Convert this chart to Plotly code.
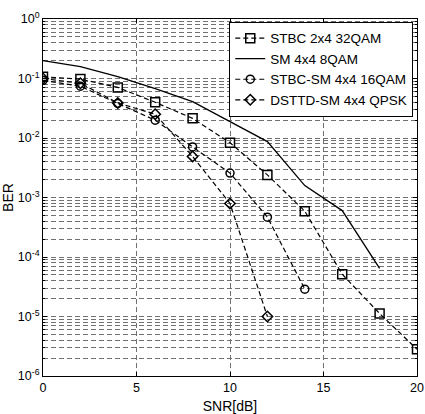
import plotly.graph_objects as go

snr_stbc = [0, 2, 4, 6, 8, 10, 12, 14, 16, 18, 20]
logber_stbc = [-0.97, -1.01, -1.15, -1.40, -1.67, -2.08, -2.62, -3.23, -4.29, -4.95, -5.55]

snr_sm = [0, 2, 4, 6, 8, 10, 12, 14, 16, 18]
logber_sm = [-0.70, -0.80, -0.97, -1.17, -1.39, -1.73, -2.06, -2.80, -3.22, -4.19]

snr_stbcsm = [0, 2, 4, 6, 8, 10, 12, 14]
logber_stbcsm = [-1.03, -1.13, -1.42, -1.70, -2.15, -2.59, -3.33, -4.54]

snr_dsttd = [0, 2, 4, 6, 8, 10, 12]
logber_dsttd = [-1.00, -1.08, -1.41, -1.60, -2.31, -3.10, -5.00]

ytick_vals = [1e0, 1e-1, 1e-2, 1e-3, 1e-4, 1e-5, 1e-6]
ytick_text = ["10<sup>0</sup>", "10<sup>-1</sup>", "10<sup>-2</sup>", "10<sup>-3</sup>",
              "10<sup>-4</sup>", "10<sup>-5</sup>", "10<sup>-6</sup>"]
xtick_vals = [0, 5, 10, 15, 20]

def tov(l):
    return [10 ** v for v in l]

dash = "5px,3px"
fig = go.Figure()
fig.add_trace(go.Scatter(x=snr_stbc, y=tov(logber_stbc), name="STBC 2x4 32QAM", mode="lines+markers",
                         line=dict(color="black", width=1.2, dash=dash),
                         marker=dict(symbol="square-open", size=9, color="black", line=dict(width=1.5))))
fig.add_trace(go.Scatter(x=snr_sm, y=tov(logber_sm), name="SM 4x4 8QAM", mode="lines",
                         line=dict(color="black", width=1.3)))
fig.add_trace(go.Scatter(x=snr_stbcsm, y=tov(logber_stbcsm), name="STBC-SM 4x4 16QAM", mode="lines+markers",
                         line=dict(color="black", width=1.2, dash=dash),
                         marker=dict(symbol="circle-open", size=8, color="black", line=dict(width=1.5))))
fig.add_trace(go.Scatter(x=snr_dsttd, y=tov(logber_dsttd), name="DSTTD-SM 4x4 QPSK", mode="lines+markers",
                         line=dict(color="black", width=1.2, dash=dash),
                         marker=dict(symbol="diamond-open", size=8, color="black", line=dict(width=1.5))))

font = dict(family="Liberation Sans, Arial, sans-serif", size=12, color="black")
gridc = "#707070"
fig.update_layout(
    width=425, height=414,
    margin=dict(l=43, r=8, t=19, b=38),
    paper_bgcolor="white", plot_bgcolor="white",
    font=font,
    showlegend=True,
    legend=dict(x=0.99, y=0.992, xanchor="right", yanchor="top",
                bgcolor="white", bordercolor="black", borderwidth=1,
                font=dict(family="Liberation Sans, Arial, sans-serif", size=13.5, color="black"),
                tracegroupgap=0, itemwidth=30),
    xaxis=dict(range=[0, 20], tickvals=xtick_vals, showline=True, linecolor="black", linewidth=1,
               mirror="ticks", ticks="inside", ticklen=4, tickcolor="black", automargin=False,
               showgrid=True, gridcolor=gridc, griddash=dash, gridwidth=1, zeroline=False,
               tickfont=dict(size=12.5),
               title=dict(text="SNR[dB]", standoff=8)),
    yaxis=dict(type="log", range=[-6, 0], tickvals=ytick_vals, ticktext=ytick_text,
               showline=True, linecolor="black", linewidth=1, mirror="ticks", automargin=False,
               ticks="inside", ticklen=4, tickcolor="black", tickfont=dict(size=12.5),
               showgrid=True, gridcolor=gridc, griddash=dash, gridwidth=1, zeroline=False,
               minor=dict(tickvals=[k * 10 ** e for e in range(-6, 0) for k in range(2, 10)],
                          showgrid=True, gridcolor=gridc, griddash=dash, gridwidth=1,
                          ticks="inside", ticklen=2, tickcolor="black"),
               title=dict(text="BER", standoff=2)),
)
fig.write_html("out.html")
